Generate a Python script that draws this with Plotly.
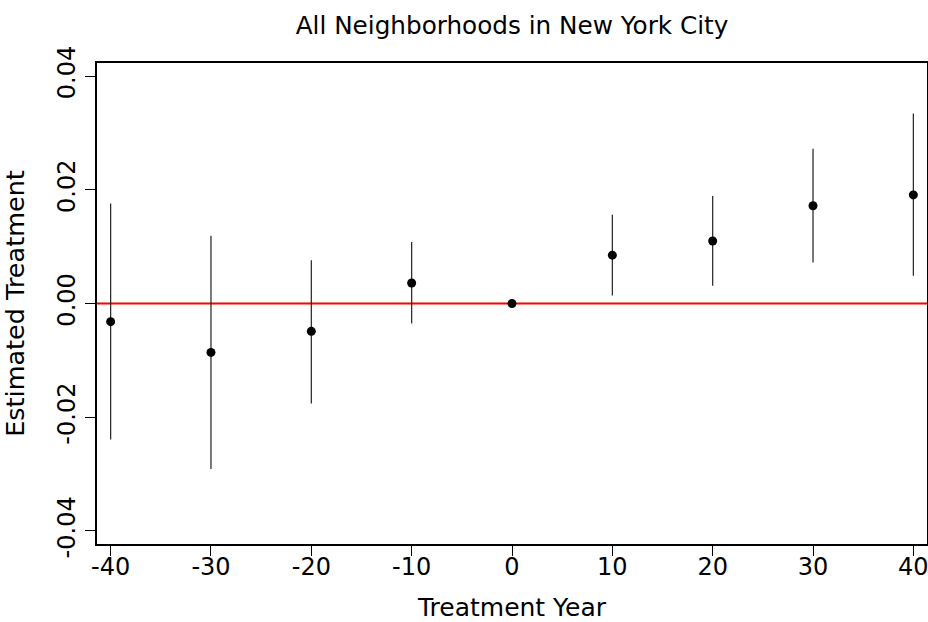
import plotly.graph_objects as go

# Data
years = [-40, -30, -20, -10, 0, 10, 20, 30, 40]
estimates = [-0.0032, -0.0086, -0.0049, 0.0036, 0.0, 0.0085, 0.0110, 0.0172, 0.0191]
ci_upper = [0.0176, 0.0119, 0.0076, 0.0108, 0.0, 0.0156, 0.0189, 0.0272, 0.0334]
ci_lower = [-0.0239, -0.0291, -0.0176, -0.0035, 0.0, 0.0014, 0.0031, 0.0072, 0.0049]

x_tickvals = [-40, -30, -20, -10, 0, 10, 20, 30, 40]
x_ticktext = ["-40", "-30", "-20", "-10", "0", "10", "20", "30", "40"]
y_tickvals = [-0.04, -0.02, 0.0, 0.02, 0.04]
y_ticktext = ["-0.04", "-0.02", "0.00", "0.02", "0.04"]

title_text = "All Neighborhoods in New York City"
x_title = "Treatment Year"
y_title = "Estimated Treatment"

err_plus = [u - e for u, e in zip(ci_upper, estimates)]
err_minus = [e - l for e, l in zip(estimates, ci_lower)]

FONT = "DejaVu Sans"

fig = go.Figure()
fig.add_trace(go.Scatter(
    x=years, y=estimates, mode="markers",
    marker=dict(color="black", size=9),
    error_y=dict(type="data", symmetric=False, array=err_plus, arrayminus=err_minus,
                 color="#222222", thickness=1.2, width=0),
    showlegend=False, hoverinfo="skip",
))

fig.add_shape(type="line", xref="paper", x0=0, x1=1, yref="y", y0=0, y1=0,
              line=dict(color="red", width=2), layer="below")

fig.update_layout(
    width=928, height=622,
    margin=dict(l=97, r=1, t=63, b=78, autoexpand=False),
    paper_bgcolor="white", plot_bgcolor="white",
    font=dict(family=FONT, size=24, color="black"),
    title=dict(text=title_text, x=0.5, xref="paper", xanchor="center",
               y=1 - 25 / 622, yref="container", yanchor="middle",
               font=dict(family=FONT, size=24.7, color="black")),
    xaxis=dict(range=[-41.36, 41.36], tickvals=x_tickvals, ticktext=x_ticktext,
               showgrid=False, zeroline=False, showline=True, linecolor="black",
               linewidth=2, mirror=True, ticks="outside", ticklen=10, tickwidth=1,
               tickcolor="black", tickfont=dict(family=FONT, size=24),
               ticklabeloverflow="allow", ticklabelstandoff=-10,
               title=dict(text=x_title, standoff=39, font=dict(family=FONT, size=25))),
    yaxis=dict(range=[-0.0423, 0.0423], tickvals=y_tickvals, ticktext=y_ticktext,
               tickangle=-90,
               showgrid=False, zeroline=False, showline=True, linecolor="black",
               linewidth=2, mirror=True, ticks="outside", ticklen=10, tickwidth=1,
               tickcolor="black", tickfont=dict(family=FONT, size=24),
               title=dict(text=y_title, standoff=21, font=dict(family=FONT, size=25.5))),
)

fig.write_html("out.html")
